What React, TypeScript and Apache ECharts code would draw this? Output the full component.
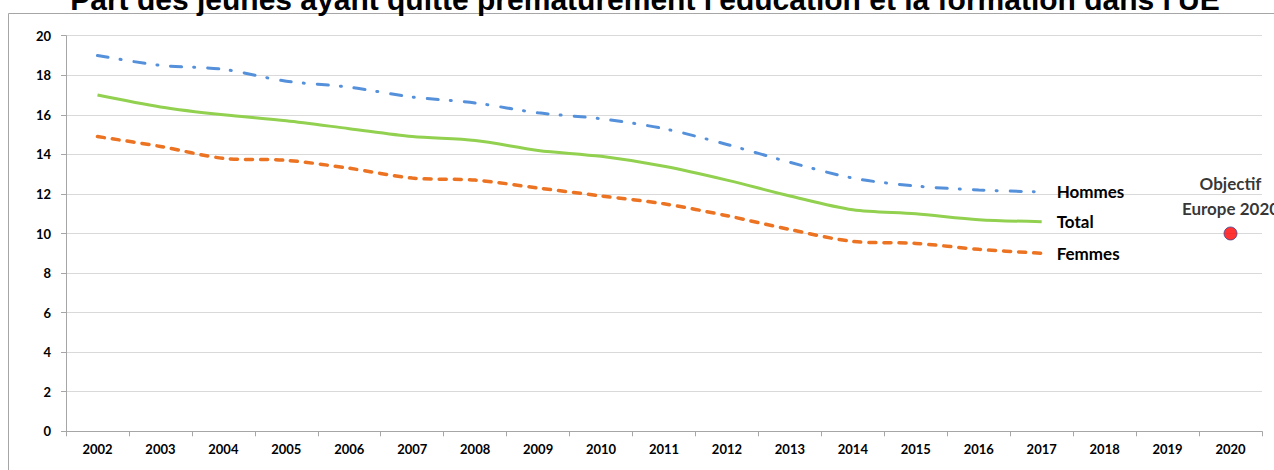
import React, { useEffect, useRef } from "react";
import * as echarts from "echarts";

const titleText = "Part des jeunes ayant quitté prématurément l'éducation et la formation dans l'UE";
const years = ["2002","2003","2004","2005","2006","2007","2008","2009","2010","2011","2012","2013","2014","2015","2016","2017","2018","2019","2020"];
const hommes = [19.0, 18.5, 18.3, 17.7, 17.4, 16.9, 16.6, 16.1, 15.8, 15.3, 14.5, 13.6, 12.8, 12.4, 12.2, 12.1];
const total = [17.0, 16.4, 16.0, 15.7, 15.3, 14.9, 14.7, 14.2, 13.9, 13.4, 12.7, 11.9, 11.2, 11.0, 10.7, 10.6];
const femmes = [14.9, 14.4, 13.8, 13.7, 13.3, 12.8, 12.7, 12.3, 11.9, 11.5, 10.9, 10.2, 9.6, 9.5, 9.2, 9.0];
const objectifYear = "2020";
const objectifValue = 10;
const objectifLabel = "Objectif\nEurope 2020";

const FONT = "Lato";

export default function App() {
  const ref = useRef<HTMLDivElement>(null);
  useEffect(() => {
    const chart = echarts.init(ref.current!, null, { renderer: "svg" });
    const endLabel = (name: string) => ({
      show: true,
      formatter: name,
      distance: 15,
      fontFamily: FONT,
      fontWeight: "bold",
      fontSize: 17,
      color: "#000",
    });
    const objData = years.map((y) => (y === objectifYear ? objectifValue : "-"));
    chart.setOption({
      animation: false,
      backgroundColor: "#fff",
      graphic: [
        {
          type: "rect",
          shape: { x: 8.5, y: 13.5, width: 1300, height: 500 },
          style: { fill: "none", stroke: "#a6a6a6", lineWidth: 1 },
          silent: true,
        },
        {
          type: "text",
          x: 645,
          y: -1,
          style: {
            text: titleText,
            font: 'bold 30px "Liberation Sans"',
            textAlign: "center",
            verticalAlign: "middle",
            fill: "#000",
          },
          silent: true,
        },
      ],
      grid: { left: 66, right: 12, top: 35.7, bottom: 38.7, containLabel: false },
      xAxis: {
        type: "category",
        data: years,
        boundaryGap: true,
        axisLine: { lineStyle: { color: "#a6a6a6", width: 1 } },
        axisTick: { show: true, length: 5, lineStyle: { color: "#a6a6a6" } },
        axisLabel: {
          interval: 0,
          margin: 11,
          fontFamily: FONT,
          fontWeight: "bold",
          fontSize: 13,
          color: "#000",
        },
        splitLine: { show: false },
      },
      yAxis: {
        type: "value",
        min: 0,
        max: 20,
        interval: 2,
        axisLine: { show: true, lineStyle: { color: "#a6a6a6", width: 1 } },
        axisTick: { show: true, length: 5, lineStyle: { color: "#a6a6a6" } },
        axisLabel: {
          margin: 15,
          fontFamily: FONT,
          fontWeight: "bold",
          fontSize: 13,
          color: "#000",
        },
        splitLine: { lineStyle: { color: "#d9d9d9", width: 1 } },
      },
      series: [
        {
          name: "Hommes",
          type: "line",
          data: hommes,
          smooth: 0.3,
          symbol: "none",
          lineStyle: { color: "#5590db", width: 3, type: [11, 12, 1, 13], cap: "round" },
          endLabel: endLabel("Hommes"),
        },
        {
          name: "Total",
          type: "line",
          data: total,
          smooth: 0.3,
          symbol: "none",
          lineStyle: { color: "#92d050", width: 3 },
          endLabel: endLabel("Total"),
        },
        {
          name: "Femmes",
          type: "line",
          data: femmes,
          smooth: 0.3,
          symbol: "none",
          lineStyle: { color: "#ec7322", width: 3.5, type: [7, 8], cap: "round" },
          endLabel: endLabel("Femmes"),
        },
        {
          name: "Objectif",
          type: "scatter",
          data: objData,
          symbol: "circle",
          symbolSize: 13,
          itemStyle: { color: "#ff0000", borderColor: "#3b4a9a", borderWidth: 1 },
          label: {
            show: true,
            position: "top",
            distance: 6,
            formatter: objectifLabel,
            fontFamily: FONT,
            fontWeight: "bold",
            fontSize: 17,
            lineHeight: 25,
            color: "#000",
          },
        },
      ],
    });
    return () => chart.dispose();
  }, []);
  return (
    <div
      ref={ref}
      style={{ position: "fixed", left: 0, top: 0, width: 1274, height: 470 }}
    />
  );
}
